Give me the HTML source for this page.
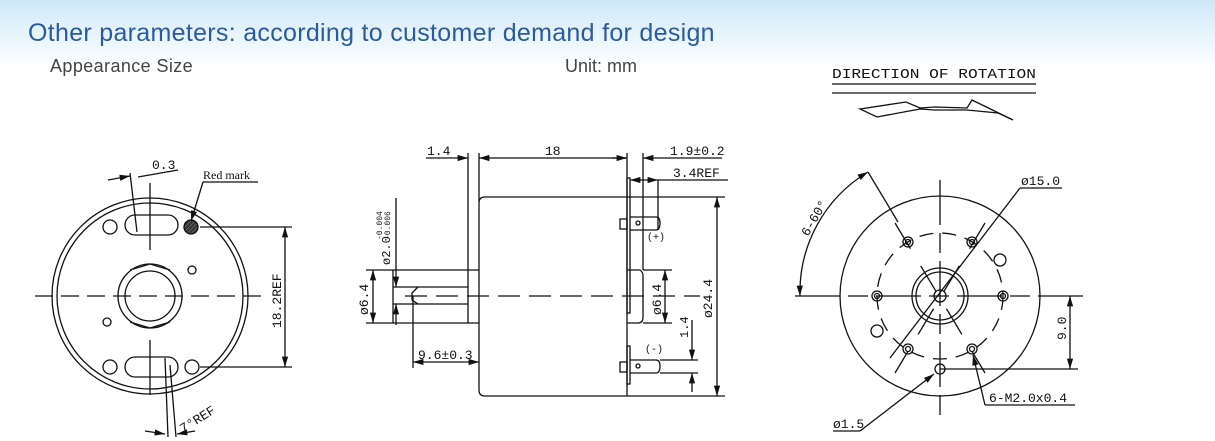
<!DOCTYPE html>
<html><head><meta charset="utf-8"><style>
html,body{margin:0;padding:0;}
body{width:1215px;height:441px;overflow:hidden;background:linear-gradient(#cde8f8 0px,#e4f3fc 30px,#ffffff 70px);position:relative;font-family:"Liberation Sans",sans-serif;}
.t1{position:absolute;left:28px;top:19px;font-size:25px;color:#2b5b9c;letter-spacing:0.3px;}
.t2{position:absolute;left:50px;top:56px;font-size:18px;color:#444;letter-spacing:0.4px;}
.t3{position:absolute;left:565px;top:56px;font-size:18px;color:#444;}
svg{position:absolute;left:0;top:0;}
svg text{font-family:"Liberation Mono",monospace;fill:#111;}
</style></head><body>
<div class="t1">Other parameters: according to customer demand for design</div>
<div class="t2">Appearance Size</div>
<div class="t3">Unit: mm</div>
<svg width="1215" height="441" viewBox="0 0 1215 441">
<defs>
<marker id="a" viewBox="0 0 10 6" refX="10" refY="3" markerWidth="8" markerHeight="5" orient="auto-start-reverse"><path d="M0,0L10,3L0,6z" fill="#111"/></marker>
<pattern id="h" width="3" height="3" patternUnits="userSpaceOnUse" patternTransform="rotate(45)"><rect width="3" height="3" fill="#333"/><line x1="0" y1="0" x2="0" y2="3" stroke="#888" stroke-width="1"/></pattern>
</defs>
<g stroke="#111" stroke-width="1.3" fill="none">
<!-- direction of rotation -->
<line x1="832" y1="84" x2="1036" y2="84" stroke="#666" stroke-width="2"/>
<line x1="832" y1="93" x2="1036" y2="93"/>
<path d="M860,109 L906,102 L920,108 L935,107 L967,108 L972,100 L1013,120 L998,113 L967,110 L935,110 L920,109 L877,117 Z"/>

<!-- LEFT VIEW -->
<circle cx="150" cy="296" r="98"/>
<circle cx="150" cy="296" r="93"/>
<circle cx="150" cy="296" r="32"/>
<circle cx="150" cy="296" r="25"/>
<path d="M130,270 L150,264 L170,270 M130,322 L150,328 L170,322"/>
<rect x="125" y="215" width="53" height="20" rx="10"/>
<rect x="125" y="357" width="53" height="20" rx="10"/>
<circle cx="110" cy="227" r="7"/>
<circle cx="110" cy="367" r="7"/>
<circle cx="192" cy="367" r="7"/>
<circle cx="192" cy="270" r="4"/>
<circle cx="107" cy="322" r="4"/>
<circle cx="191" cy="227" r="7" fill="url(#h)"/>
<line x1="35" y1="296" x2="265" y2="296" stroke-dasharray="18,8"/>
<line x1="150" y1="183" x2="150" y2="250"/>
<line x1="150" y1="340" x2="150" y2="395"/>
<line x1="130" y1="173" x2="137" y2="232"/>
<line x1="108" y1="180" x2="130" y2="176" marker-end="url(#a)"/>
<line x1="138" y1="177" x2="178" y2="170"/>
<line x1="200" y1="227" x2="292" y2="227"/>
<line x1="200" y1="367" x2="292" y2="367"/>
<line x1="285" y1="227" x2="285" y2="367" marker-start="url(#a)" marker-end="url(#a)"/>
<line x1="203" y1="182" x2="258" y2="182"/>
<line x1="203" y1="182" x2="191" y2="221" marker-end="url(#a)"/>
<line x1="165" y1="358" x2="168" y2="437"/>
<line x1="170" y1="365" x2="176" y2="437"/>
<line x1="145" y1="431" x2="165" y2="434" marker-end="url(#a)"/>
<line x1="195" y1="431" x2="177" y2="434" marker-end="url(#a)"/>

<!-- MIDDLE VIEW -->
<path d="M479,153 L479,390 Q479,396 485,396 L627,396 M485,197 L627,197 M479,203 Q479,197 485,197"/>
<line x1="468" y1="153" x2="468" y2="323"/>
<line x1="393" y1="270" x2="479" y2="270"/>
<line x1="393" y1="323" x2="479" y2="323"/>
<line x1="393" y1="287" x2="468" y2="287"/>
<line x1="393" y1="304" x2="468" y2="304"/>
<path d="M418,287 L412,293 L412,300 L418,304"/>
<line x1="393" y1="270" x2="393" y2="323"/>
<line x1="405" y1="296" x2="700" y2="296" stroke-dasharray="22,9"/>
<line x1="627" y1="153" x2="627" y2="396"/>
<rect x="627" y="178" width="3" height="135"/>
<rect x="627" y="346" width="3" height="38"/>
<line x1="643" y1="153" x2="643" y2="270"/>
<path d="M627,270 L640,270 Q643,272 643,276 L643,317 Q643,323 638,323 L627,323"/>
<line x1="658" y1="180" x2="658" y2="230"/>
<path d="M630,217 L656,217 Q660,217 660,223 Q660,230 656,230 L630,230"/>
<rect x="620" y="219" width="7" height="10"/>
<circle cx="638" cy="223" r="2"/>
<path d="M630,360 L656,360 Q660,360 660,366 Q660,373 656,373 L630,373"/>
<rect x="620" y="362" width="7" height="10"/>
<circle cx="638" cy="366" r="2"/>
<line x1="627" y1="197" x2="725" y2="197"/>
<line x1="627" y1="396" x2="725" y2="396"/>
<line x1="717" y1="197" x2="717" y2="396" marker-start="url(#a)" marker-end="url(#a)"/>
<line x1="643" y1="270" x2="672" y2="270"/>
<line x1="643" y1="323" x2="672" y2="323"/>
<line x1="665" y1="270" x2="665" y2="323" marker-start="url(#a)" marker-end="url(#a)"/>
<line x1="660" y1="360" x2="698" y2="360"/>
<line x1="660" y1="373" x2="698" y2="373"/>
<line x1="692" y1="320" x2="692" y2="360" marker-end="url(#a)"/>
<line x1="692" y1="392" x2="692" y2="373" marker-end="url(#a)"/>
<line x1="426" y1="158" x2="468" y2="158" marker-end="url(#a)"/>
<line x1="479" y1="158" x2="627" y2="158" marker-start="url(#a)" marker-end="url(#a)"/>
<line x1="643" y1="158" x2="722" y2="158" marker-start="url(#a)"/>
<line x1="612" y1="158" x2="627" y2="158"/>
<line x1="630" y1="180" x2="658" y2="180" marker-start="url(#a)" marker-end="url(#a)"/>
<line x1="658" y1="180" x2="728" y2="180"/>
<line x1="366" y1="270" x2="393" y2="270"/>
<line x1="366" y1="323" x2="393" y2="323"/>
<line x1="373" y1="270" x2="373" y2="323" marker-start="url(#a)" marker-end="url(#a)"/>
<line x1="396" y1="198" x2="396" y2="287" marker-end="url(#a)"/>
<line x1="396" y1="325" x2="396" y2="304" marker-end="url(#a)"/>
<line x1="413" y1="296" x2="413" y2="368"/>
<line x1="413" y1="362" x2="479" y2="362" marker-start="url(#a)" marker-end="url(#a)"/>

<!-- RIGHT VIEW -->
<circle cx="940" cy="296" r="100"/>
<circle cx="940" cy="296" r="28"/>
<circle cx="940" cy="296" r="24"/>
<circle cx="940" cy="296" r="6"/>
<circle cx="940" cy="296" r="63" stroke-dasharray="14,9"/>
<g>
<circle cx="908" cy="242" r="5"/><circle cx="908" cy="242" r="2.5"/>
<circle cx="972" cy="242" r="5"/><circle cx="972" cy="242" r="2.5"/>
<circle cx="877" cy="296" r="5"/><circle cx="877" cy="296" r="2.5"/>
<circle cx="1003" cy="296" r="5"/><circle cx="1003" cy="296" r="2.5"/>
<circle cx="908" cy="349" r="5"/><circle cx="908" cy="349" r="2.5"/>
<circle cx="972" cy="349" r="5"/><circle cx="972" cy="349" r="2.5"/>
</g>
<circle cx="1000" cy="260" r="6"/>
<circle cx="877" cy="331" r="6"/>
<circle cx="940" cy="369" r="5"/>
<line x1="795" y1="296" x2="1085" y2="296" stroke-dasharray="45,8,20,8"/>
<line x1="940" y1="180" x2="940" y2="420" stroke-dasharray="45,8,20,8"/>
<line x1="895" y1="223" x2="985" y2="373" stroke-dasharray="30,20"/>
<line x1="985" y1="223" x2="895" y2="373" stroke-dasharray="30,20"/>
<line x1="868" y1="172" x2="898" y2="222"/>
<path d="M868,172 A140,140 0 0 0 800,296" marker-start="url(#a)" marker-end="url(#a)"/>
<line x1="940" y1="369" x2="1078" y2="369"/>
<line x1="1070" y1="296" x2="1070" y2="369" marker-start="url(#a)" marker-end="url(#a)"/>
<line x1="1020" y1="188" x2="1062" y2="188"/>
<line x1="1020" y1="188" x2="890" y2="358"/>
<line x1="985" y1="405" x2="1075" y2="405"/>
<line x1="985" y1="405" x2="973" y2="355" marker-end="url(#a)"/>
<line x1="833" y1="431" x2="860" y2="431"/>
<line x1="860" y1="431" x2="934" y2="374" marker-end="url(#a)"/>
</g>
<g font-size="12">
<text x="832" y="78" font-size="14" textLength="204" lengthAdjust="spacingAndGlyphs">DIRECTION OF ROTATION</text>
<text x="152" y="169" font-size="13">0.3</text>
<text x="203" y="179" font-size="12" style="font-family:'Liberation Serif',serif">Red mark</text>
<text x="0" y="0" font-size="13" transform="translate(281,328) rotate(-90)">18.2REF</text>
<text x="0" y="0" font-size="13" transform="translate(183,433) rotate(-32)">7°REF</text>
<text x="427" y="155" font-size="13">1.4</text>
<text x="545" y="155" font-size="13">18</text>
<text x="670" y="155" font-size="13">1.9±0.2</text>
<text x="673" y="177" font-size="13">3.4REF</text>
<text x="0" y="0" font-size="13" transform="translate(712,318) rotate(-90)">ø24.4</text>
<text x="0" y="0" font-size="13" transform="translate(661,315) rotate(-90)">ø6.4</text>
<text x="0" y="0" font-size="13" transform="translate(368,315) rotate(-90)">ø6.4</text>
<text x="0" y="0" font-size="12" transform="translate(390,265) rotate(-90)">ø2.0</text>
<text x="0" y="0" font-size="8" transform="translate(382,240) rotate(-90)">-0.004</text>
<text x="0" y="0" font-size="8" transform="translate(390,240) rotate(-90)">-0.006</text>
<text x="0" y="0" font-size="12" transform="translate(688,338) rotate(-90)">1.4</text>
<text x="418" y="359" font-size="13">9.6±0.3</text>
<text x="647" y="240" font-size="10">(+)</text>
<text x="645" y="352" font-size="10">(-)</text>
<text x="0" y="0" font-size="13" transform="translate(808,237) rotate(-60)">6-60°</text>
<text x="1021" y="185" font-size="13">ø15.0</text>
<text x="0" y="0" font-size="13" transform="translate(1066,340) rotate(-90)">9.0</text>
<text x="989" y="402" font-size="13">6-M2.0x0.4</text>
<text x="833" y="428" font-size="13">ø1.5</text>
</g>
</svg>
</body></html>
